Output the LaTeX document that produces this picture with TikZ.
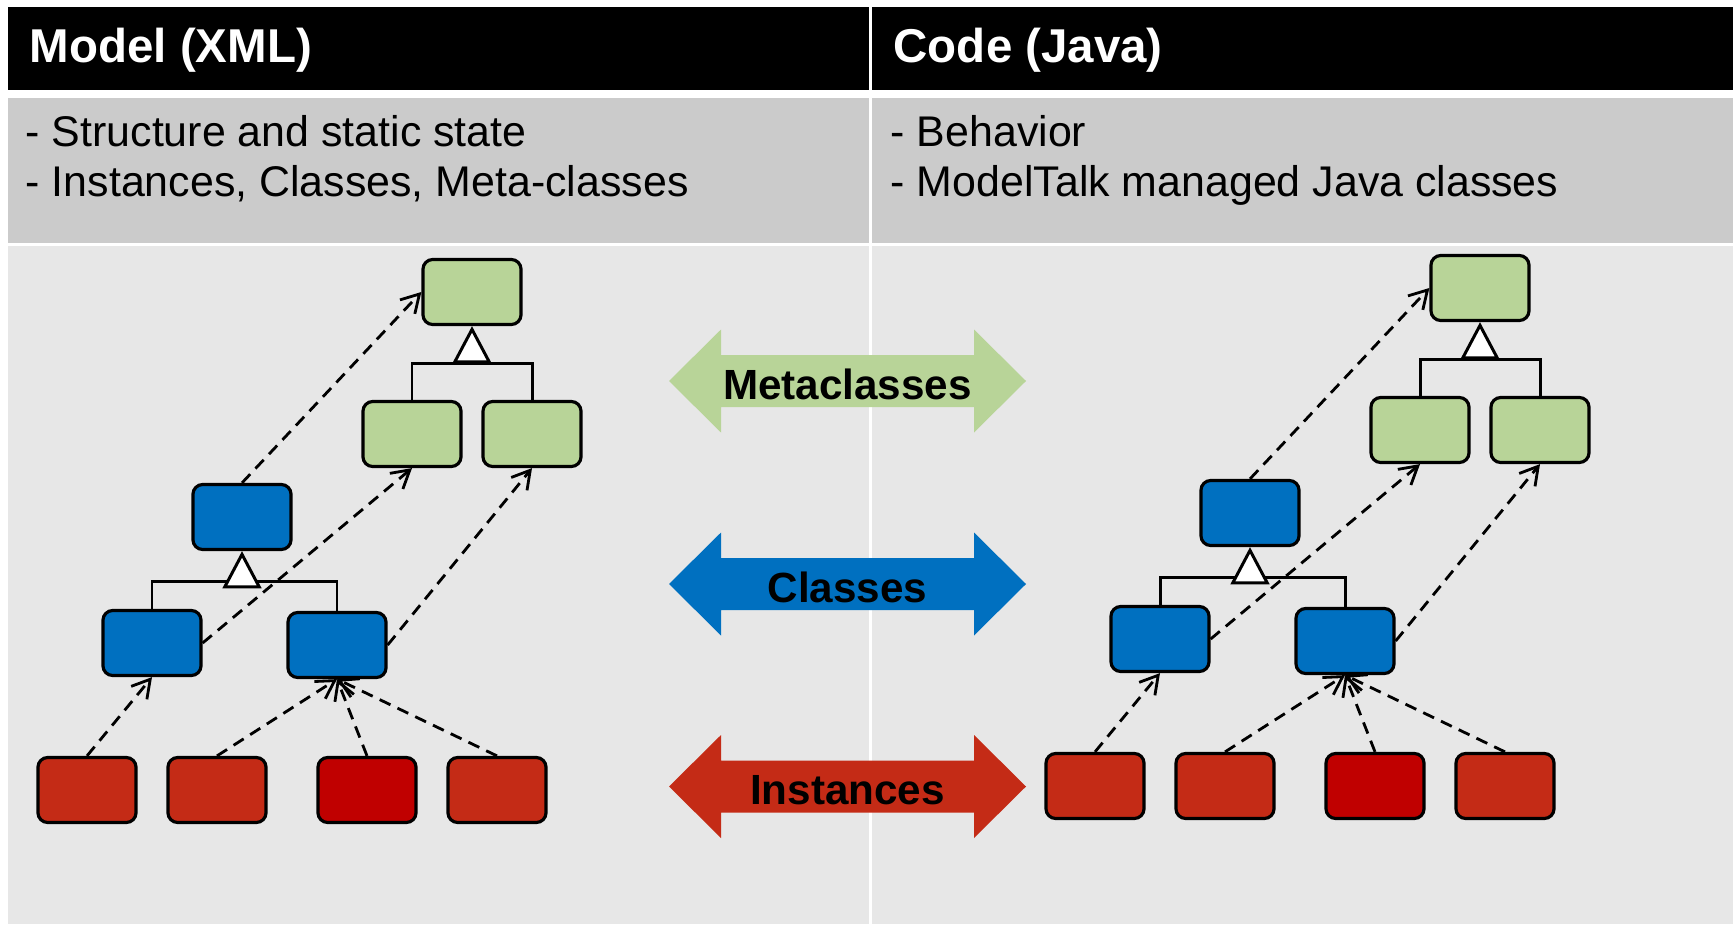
\documentclass[tikz,border=0pt]{standalone}
\usepackage{fontspec}
\setmainfont{Liberation Sans}
\usetikzlibrary{arrows.meta,calc}
\definecolor{mgreen}{HTML}{B8D498}
\definecolor{mblue}{HTML}{0070C0}
\definecolor{mred}{HTML}{C42B16}
\definecolor{mdred}{HTML}{C00000}
\definecolor{bandgray}{HTML}{CBCBCB}
\definecolor{areagray}{HTML}{E7E7E7}
\newcommand{\twowayarrow}[2]{%
  \begin{scope}[shift={(#1)}]
    \fill[#2] (-178.5,0) -- (-126.5,-51.5) -- (-126.5,-26) -- (126.5,-26) -- (126.5,-51.5)
      -- (178.5,0) -- (126.5,51.5) -- (126.5,26) -- (-126.5,26) -- (-126.5,51.5) -- cycle;
  \end{scope}}
\begin{document}
\begin{tikzpicture}[x=0.01cm,y=-0.01cm,
  box/.style={draw=black, line width=0.9pt, rounded corners=2.8pt,
    minimum width=27.9pt, minimum height=18.5pt, inner sep=0pt},
  gbox/.style={box, fill=mgreen},
  bbox/.style={box, fill=mblue},
  rbox/.style={box, fill=mred},
  rdbox/.style={box, fill=mdred},
  dep/.style={line width=0.8pt, dash pattern=on 3.4pt off 2.2pt,
    -{Straight Barb[length=5pt,width=5.8pt]}},
  tree/.style={line width=0.85pt},
  inh/.style={tree, -{Triangle[fill=white, length=10.6pt, width=11pt]}},
  hdr/.style={anchor=base west, inner sep=0pt, text=white,
    font=\fontsize{13.5}{16}\selectfont\bfseries},
  body/.style={anchor=base west, inner sep=0pt, font=\fontsize{12.2}{14.5}\selectfont},
  lbl/.style={anchor=base, inner sep=0pt, font=\fontsize{12}{14}\selectfont\bfseries}]
\useasboundingbox (0,0) rectangle (1736,924);
\fill[white] (0,0) rectangle (1736,924);
% table cells
\fill[black] (8,7) rectangle (869,90);
\fill[black] (872,7) rectangle (1733,90);
\fill[bandgray] (8,98) rectangle (869,243);
\fill[bandgray] (872,98) rectangle (1733,243);
\fill[areagray] (8,246) rectangle (869,924);
\fill[areagray] (872,246) rectangle (1733,924);
% header texts
\node[hdr] (h1) at (29,62) {Model (XML)};
\node[hdr] (h2) at (893,62) {Code (Java)};
\node[body] (l1) at (25,146) {- Structure and static state};
\node[body] (l2) at (25,196) {- Instances, Classes, Meta-classes};
\node[body] (r1) at (890,146) {- Behavior};
\node[body] (r2) at (890,196) {- ModelTalk managed Java classes};
% central arrows
\coordinate (cmeta) at (847.5,381);
\coordinate (cclass) at (847.5,584);
\coordinate (cinst) at (847.5,786.5);
\twowayarrow{cmeta}{mgreen}
\twowayarrow{cclass}{mblue}
\twowayarrow{cinst}{mred}
\node[lbl] (tmeta) at (847.5,399) {Metaclasses};
\node[lbl] (tclass) at (847.5,602) {Classes};
\node[lbl] (tinst) at (847.5,804) {Instances};
% ---------- left diagram ----------
\node[gbox] (g0) at (472,292) {};
\node[gbox] (g1) at (412,434) {};
\node[gbox] (g2) at (532,434) {};
\node[bbox] (b0) at (242,517) {};
\node[bbox] (b1) at (152,643) {};
\node[bbox] (b2) at (337,645) {};
\node[rbox] (i1) at (87,790) {};
\node[rbox] (i2) at (217,790) {};
\node[rdbox] (i3) at (367,790) {};
\node[rbox] (i4) at (497,790) {};
\coordinate (gj) at ($(g0.south)+(0,37)$);
\draw[tree] (g1.north) |- (gj) -| (g2.north);
\draw[inh] (gj) -- (g0.south);
\coordinate (bj) at ($(b0.south)+(0,30)$);
\draw[tree] (b1.north) |- (bj) -| (b2.north);
\draw[inh] (bj) -- (b0.south);
\draw[dep] (b0.north) -- (g0.west);
\draw[dep] (b1.east) -- (g1.south);
\draw[dep] (b2.east) -- (g2.south);
\draw[dep] (i1.north) -- (b1.south);
\draw[dep] (i2.north) -- (b2.south);
\draw[dep] (i3.north) -- (b2.south);
\draw[dep] (i4.north) -- (b2.south);
% ---------- right diagram ----------
\node[gbox] (G0) at (1480,288) {};
\node[gbox] (G1) at (1420,430) {};
\node[gbox] (G2) at (1540,430) {};
\node[bbox] (B0) at (1250,513) {};
\node[bbox] (B1) at (1160,639) {};
\node[bbox] (B2) at (1345,641) {};
\node[rbox] (I1) at (1095,786) {};
\node[rbox] (I2) at (1225,786) {};
\node[rdbox] (I3) at (1375,786) {};
\node[rbox] (I4) at (1505,786) {};
\coordinate (GJ) at ($(G0.south)+(0,37)$);
\draw[tree] (G1.north) |- (GJ) -| (G2.north);
\draw[inh] (GJ) -- (G0.south);
\coordinate (BJ) at ($(B0.south)+(0,30)$);
\draw[tree] (B1.north) |- (BJ) -| (B2.north);
\draw[inh] (BJ) -- (B0.south);
\draw[dep] (B0.north) -- (G0.west);
\draw[dep] (B1.east) -- (G1.south);
\draw[dep] (B2.east) -- (G2.south);
\draw[dep] (I1.north) -- (B1.south);
\draw[dep] (I2.north) -- (B2.south);
\draw[dep] (I3.north) -- (B2.south);
\draw[dep] (I4.north) -- (B2.south);
\end{tikzpicture}
\end{document}
